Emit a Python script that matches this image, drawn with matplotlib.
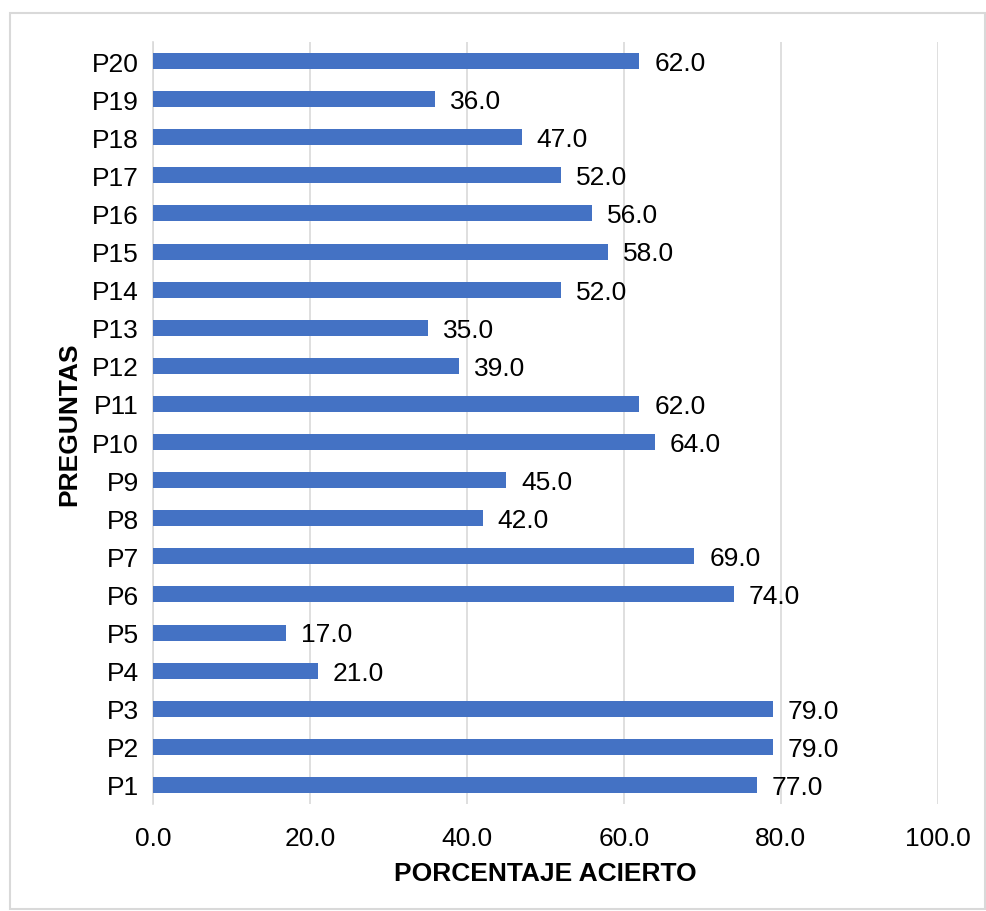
import matplotlib.pyplot as plt
from matplotlib.patches import Rectangle

# datos
preguntas = ["P1", "P2", "P3", "P4", "P5", "P6", "P7", "P8", "P9", "P10",
             "P11", "P12", "P13", "P14", "P15", "P16", "P17", "P18", "P19", "P20"]
acierto = [77.0, 79.0, 79.0, 21.0, 17.0, 74.0, 69.0, 42.0, 45.0, 64.0,
           62.0, 39.0, 35.0, 52.0, 58.0, 56.0, 52.0, 47.0, 36.0, 62.0]
x_ticks = [0, 20, 40, 60, 80, 100]

plt.rcParams["font.family"] = ["Liberation Sans", "DejaVu Sans"]
fs = 19

fig = plt.figure(figsize=(9.87, 9.12), dpi=100)
ax = fig.add_axes([0.155, 0.1173, 0.795, 0.8356])

# borde exterior del grafico
fig.patches.append(Rectangle((10 / 987, 0.002), 1 - 12 / 987, 1 - 14 / 912 - 0.002,
                             transform=fig.transFigure, fill=False,
                             edgecolor="#d9d9d9", linewidth=1.5))

pos = list(range(len(preguntas)))
ax.barh(pos, acierto, height=0.42, color="#4472C4", zorder=3)

for p, v in zip(pos, acierto):
    ax.text(v + 1.9, p - 0.05, f"{v:.1f}", va="center", ha="left",
            fontsize=fs, color="#000000")

ax.set_xlim(0, 100)
ax.set_ylim(-0.5, len(preguntas) - 0.5)
ax.set_yticks(pos)
ax.set_yticklabels(preguntas, fontsize=fs)
ax.set_xticks(x_ticks)
ax.set_xticklabels([f"{t:.1f}" for t in x_ticks], fontsize=fs)

ax.grid(axis="x", color="#d9d9d9", linewidth=1.2, zorder=0)
ax.tick_params(length=0, pad=10)
ax.tick_params(axis="x", pad=16)
for side in ["top", "right", "bottom"]:
    ax.spines[side].set_visible(False)
ax.spines["left"].set_color("#d9d9d9")
ax.spines["left"].set_linewidth(1.2)

ax.set_xlabel("PORCENTAJE ACIERTO", fontsize=fs, fontweight="bold", labelpad=8)
ax.set_ylabel("PREGUNTAS", fontsize=fs, fontweight="bold", labelpad=8)

fig.savefig("out.png", dpi=100)
